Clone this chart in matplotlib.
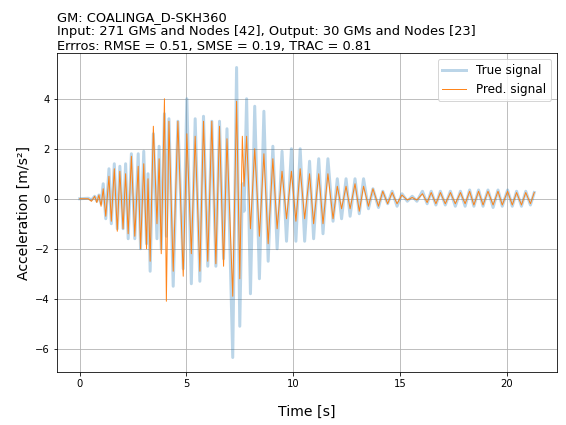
import matplotlib
matplotlib.use("Agg")
import matplotlib.pyplot as plt

# time of each local extreme [s]
time_s = [0.0, 0.4, 0.55, 0.7, 0.8, 0.9, 1.0, 1.1, 1.22, 1.37, 1.48, 1.62, 1.76, 1.88,
          2.03, 2.15, 2.27, 2.42, 2.58, 2.74, 2.85, 3.0, 3.13, 3.2, 3.3, 3.45, 3.62,
          3.72, 3.82, 3.97, 4.06, 4.18, 4.38, 4.6, 4.85, 5.02, 5.23, 5.41, 5.63, 5.8,
          6.0, 6.19, 6.38, 6.55, 6.74, 6.9, 7.17, 7.35, 7.5, 7.62, 7.7, 7.82, 8.0,
          8.2, 8.42, 8.63, 8.83, 9.05, 9.25, 9.48, 9.69, 9.92, 10.13, 10.33, 10.54,
          10.77, 10.96, 11.2, 11.4, 11.63, 11.87, 12.07, 12.27, 12.48, 12.67, 12.9,
          13.1, 13.3, 13.53, 13.74, 14.0, 14.2, 14.43, 14.64, 14.87, 15.1, 15.35,
          15.58, 15.8, 16.06, 16.28, 16.47, 16.69, 16.9, 17.13, 17.37, 17.6, 17.84,
          18.06, 18.27, 18.47, 18.69, 18.9, 19.13, 19.37, 19.6, 19.8, 20.05, 20.27,
          20.47, 20.7, 20.9, 21.12, 21.3]

true_signal = [0.0, 0.02, -0.05, 0.1, -0.1, 0.15, -0.2, 0.6, -0.8, 1.2, -1.0, 1.4, -1.2, 1.3,
               -1.2, 1.4, -1.6, 1.8, -1.6, 1.8, -2.0, 1.9, -1.8, 1.0, -2.9, 2.6, -1.6,
               2.1, -2.0, 3.4, -1.5, 3.2, -3.5, 3.1, -2.8, 4.0, -3.4, 3.2, -3.3, 3.3,
               -2.7, 3.1, -2.7, 3.1, -2.4, 2.8, -6.35, 5.25, -5.1, 0.6, -0.5, 4.0, -3.8,
               3.7, -3.2, 3.5, -2.5, 2.1, -2.0, 1.9, -1.7, 2.0, -1.7, 2.0, -1.7,
               1.5, -1.6, 1.6, -1.4, 1.6, -0.9, 0.8, -0.8, 0.8, -0.7, 0.8,
               -0.6, 0.8, -0.4, 0.4, -0.35, 0.3, -0.2, 0.3, -0.3, 0.2, -0.1,
               0.1, -0.1, 0.3, -0.2, 0.3, -0.25, 0.3, -0.25, 0.3, -0.3, 0.3,
               -0.3, 0.35, -0.3, 0.35, -0.3, 0.35, -0.35, 0.35, -0.3, 0.35, -0.3,
               0.3, -0.3, 0.3, -0.25, 0.25]

pred_signal = [0.0, 0.0, -0.1, 0.1, -0.15, 0.15, -0.3, 0.4, -0.7, 0.9, -0.9, 1.2, -1.3, 1.1,
               -1.2, 1.0, -1.4, 1.7, -1.5, 1.3, -2.0, 1.4, -2.0, 0.8, -2.5, 2.9, -1.0,
               1.6, -2.2, 4.0, -4.1, 3.1, -2.9, 3.1, -3.1, 2.6, -2.2, 2.5, -2.9, 3.1,
               -2.5, 3.1, -2.6, 2.9, -2.7, 2.4, -3.9, 3.9, -3.2, 2.5, 0.5, 2.5, -1.2,
               2.0, -1.5, 1.8, -1.8, 1.6, -1.2, 1.1, -0.8, 1.1, -0.9, 1.2, -0.8,
               1.0, -1.0, 1.0, -1.0, 1.0, -0.8, 0.5, -0.4, 0.5, -0.4, 0.6,
               -0.5, 0.5, -0.3, 0.4, -0.3, 0.3, -0.2, 0.25, -0.2, 0.15, -0.05,
               0.05, -0.05, 0.2, -0.15, 0.25, -0.2, 0.25, -0.2, 0.25, -0.2, 0.25,
               -0.2, 0.3, -0.25, 0.3, -0.25, 0.3, -0.25, 0.3, -0.25, 0.3, -0.25,
               0.25, -0.25, 0.25, -0.2, 0.25]

title_text = ("GM: COALINGA_D-SKH360\n"
              "Input: 271 GMs and Nodes [42], Output: 30 GMs and Nodes [23]\n"
              "Errros: RMSE = 0.51, SMSE = 0.19, TRAC = 0.81")

fig = plt.figure(figsize=(566 / 72, 425 / 72), dpi=72)
ax = fig.add_axes([57 / 566, 1 - 372 / 425, 500 / 566, 319 / 425])

ax.plot(time_s, true_signal, color="tab:blue", alpha=0.3, linewidth=3, label="True signal")
ax.plot(time_s, pred_signal, color="tab:orange", alpha=0.95, linewidth=1, label="Pred. signal")

ax.grid(True)
ax.set_xlabel("Time [s]", fontsize=14, labelpad=16)
ax.set_ylabel("Acceleration [m/s²]", fontsize=14)
ax.tick_params(labelsize=10)
ax.legend(loc="upper right", fontsize=12)
ax.set_title(title_text, loc="left", fontsize=13, pad=2, linespacing=1.15)

fig.savefig("out.png", dpi=72)
